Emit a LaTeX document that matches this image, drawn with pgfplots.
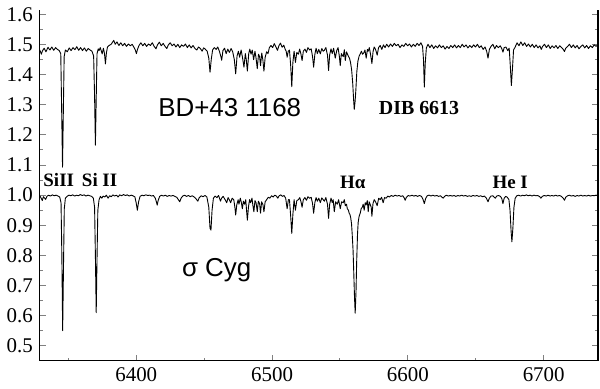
\documentclass[border=0pt]{standalone}
\usepackage{fontspec}
\setmainfont{Liberation Serif}
\newfontfamily\serf{Liberation Serif}
\newfontfamily\sansf{Liberation Sans}
\usepackage{pgfplots}
\pgfplotsset{compat=1.18}

\begin{document}
\begin{tikzpicture}
\begin{axis}[
  scale only axis, width=280pt, height=176pt,
  xmin=6329, xmax=6740, ymin=0.45, ymax=1.615,
  axis x line*=bottom, axis y line*=box,
  axis line style={line width=0.6pt},
  xtick={6400,6500,6600,6700},
  minor xtick={6350,6450,6550,6650},
  ytick={0.5,0.6,0.7,0.8,0.9,1.0,1.1,1.2,1.3,1.4,1.5,1.6},
  minor ytick={0.45,0.55,0.65,0.75,0.85,0.95,1.05,1.15,1.25,1.35,1.45,1.55},
  tick align=inside,
  major tick length=3pt, minor tick length=1.6pt,
  tick style={line width=0.5pt},
  /pgf/number format/assume math mode=true,
  xticklabel={\mbox{\serf\fontsize{10.5}{12}\selectfont\pgfmathprintnumber[1000 sep={}]{\tick}}},
  yticklabel={\mbox{\serf\fontsize{10.5}{12}\selectfont\pgfmathprintnumber[fixed,fixed zerofill,precision=1]{\tick}}},
]
% BD+43 1168 (offset spectrum)
\addplot[black, line width=0.45pt, line join=round, no marks] table {
6329.0 1.482
6330.1 1.468
6331.0 1.480
6332.2 1.488
6333.5 1.476
6335.0 1.491
6336.4 1.482
6337.8 1.492
6339.2 1.481
6340.6 1.490
6342.0 1.484
6343.3 1.480
6344.4 1.470
6345.0 1.300
6345.7 1.093
6346.3 1.280
6346.9 1.460
6347.8 1.482
6349.2 1.476
6350.6 1.489
6352.0 1.480
6353.4 1.490
6354.8 1.483
6356.2 1.493
6357.6 1.481
6359.0 1.490
6360.4 1.480
6361.8 1.489
6363.2 1.478
6364.6 1.487
6366.0 1.482
6367.4 1.478
6368.6 1.462
6369.3 1.330
6369.9 1.166
6370.5 1.320
6371.1 1.470
6372.0 1.486
6372.6 1.480
6373.5 1.490
6374.9 1.469
6375.8 1.488
6376.6 1.470
6377.3 1.436
6378.0 1.472
6378.8 1.492
6380.0 1.497
6381.5 1.501
6382.5 1.508
6383.4 1.514
6384.5 1.501
6385.8 1.509
6387.2 1.497
6388.6 1.506
6390.0 1.496
6391.4 1.504
6392.8 1.494
6394.2 1.502
6395.6 1.496
6397.0 1.501
6398.4 1.490
6399.3 1.482
6400.1 1.470
6400.9 1.484
6402.0 1.497
6403.4 1.506
6404.8 1.496
6406.2 1.504
6407.6 1.494
6409.0 1.502
6410.4 1.497
6411.8 1.506
6413.2 1.494
6414.5 1.486
6415.6 1.499
6417.0 1.508
6418.4 1.496
6419.8 1.504
6421.2 1.494
6422.5 1.487
6423.6 1.499
6425.0 1.506
6426.4 1.496
6427.8 1.502
6429.2 1.492
6430.6 1.501
6432.0 1.490
6433.4 1.499
6434.8 1.494
6436.2 1.502
6437.6 1.490
6439.0 1.499
6440.4 1.489
6441.8 1.497
6443.2 1.487
6444.6 1.482
6445.8 1.492
6447.2 1.487
6448.5 1.478
6449.6 1.489
6450.8 1.485
6452.2 1.478
6453.4 1.455
6454.3 1.408
6455.2 1.450
6456.2 1.482
6457.4 1.490
6458.8 1.484
6460.0 1.492
6461.2 1.478
6462.2 1.462
6462.9 1.448
6463.8 1.480
6465.0 1.488
6466.2 1.470
6467.4 1.485
6468.6 1.474
6469.8 1.487
6471.0 1.476
6472.2 1.450
6473.2 1.403
6474.2 1.462
6475.2 1.478
6476.1 1.458
6477.2 1.482
6478.3 1.455
6479.3 1.425
6480.3 1.470
6481.0 1.450
6481.8 1.412
6482.8 1.470
6483.6 1.485
6484.5 1.468
6485.4 1.482
6486.4 1.450
6487.4 1.478
6488.2 1.455
6489.1 1.420
6490.0 1.468
6490.8 1.460
6491.5 1.430
6492.4 1.472
6493.2 1.450
6494.0 1.412
6494.9 1.458
6496.0 1.476
6497.0 1.470
6498.0 1.490
6499.2 1.497
6500.4 1.490
6501.6 1.503
6502.8 1.492
6504.0 1.481
6505.0 1.496
6506.2 1.505
6507.4 1.491
6508.6 1.498
6509.6 1.485
6510.4 1.478
6511.1 1.458
6511.9 1.478
6512.8 1.482
6513.7 1.430
6514.5 1.360
6515.3 1.440
6516.2 1.478
6517.2 1.441
6518.2 1.474
6519.4 1.468
6520.3 1.485
6521.2 1.470
6522.1 1.447
6523.0 1.478
6524.2 1.485
6525.3 1.474
6526.4 1.490
6527.6 1.482
6528.8 1.486
6529.8 1.460
6530.6 1.425
6531.5 1.468
6532.4 1.488
6533.3 1.470
6534.4 1.484
6535.5 1.469
6536.6 1.487
6537.6 1.478
6538.5 1.481
6539.6 1.490
6540.8 1.465
6541.6 1.414
6542.4 1.466
6543.4 1.486
6544.3 1.470
6545.3 1.488
6546.5 1.455
6547.6 1.480
6548.6 1.490
6549.5 1.462
6550.2 1.430
6551.0 1.470
6552.4 1.460
6553.2 1.483
6553.9 1.447
6554.8 1.476
6556.1 1.462
6557.0 1.455
6557.8 1.440
6558.6 1.415
6559.4 1.370
6560.0 1.320
6560.5 1.285
6561.1 1.310
6561.7 1.350
6562.4 1.410
6563.2 1.445
6564.1 1.462
6565.0 1.470
6565.8 1.478
6566.6 1.468
6567.5 1.472
6568.4 1.482
6569.3 1.455
6570.2 1.484
6570.8 1.478
6571.6 1.490
6572.6 1.465
6573.5 1.437
6574.4 1.478
6575.2 1.492
6576.2 1.484
6577.4 1.465
6578.4 1.490
6579.6 1.497
6580.8 1.484
6582.0 1.499
6583.2 1.490
6584.4 1.501
6585.8 1.492
6587.2 1.502
6588.6 1.494
6590.0 1.504
6591.4 1.496
6592.8 1.501
6594.2 1.490
6595.6 1.499
6597.0 1.494
6598.4 1.504
6599.8 1.496
6601.2 1.502
6602.6 1.492
6604.0 1.501
6605.4 1.494
6606.8 1.504
6608.2 1.497
6609.6 1.506
6610.8 1.494
6611.5 1.450
6612.1 1.359
6612.8 1.440
6613.6 1.489
6614.8 1.501
6616.2 1.490
6617.6 1.499
6619.0 1.487
6620.4 1.496
6621.8 1.489
6623.2 1.499
6624.6 1.490
6626.0 1.496
6627.4 1.485
6628.8 1.494
6630.2 1.487
6631.6 1.497
6633.0 1.490
6634.4 1.499
6635.8 1.489
6637.2 1.497
6638.6 1.490
6640.0 1.501
6641.4 1.492
6642.8 1.499
6644.2 1.489
6645.6 1.497
6647.0 1.490
6648.4 1.499
6649.8 1.492
6651.2 1.501
6652.6 1.490
6654.0 1.496
6655.4 1.484
6656.8 1.492
6658.0 1.478
6659.0 1.455
6660.0 1.484
6661.2 1.494
6662.6 1.501
6664.0 1.486
6665.2 1.497
6666.6 1.490
6668.0 1.496
6669.2 1.486
6670.0 1.475
6670.9 1.490
6672.2 1.492
6673.5 1.480
6674.6 1.488
6675.4 1.430
6676.2 1.364
6677.0 1.420
6677.8 1.482
6679.0 1.492
6680.4 1.506
6681.8 1.496
6683.2 1.509
6684.6 1.497
6686.0 1.506
6687.4 1.494
6688.8 1.502
6690.2 1.492
6691.6 1.501
6693.0 1.490
6694.4 1.499
6695.8 1.489
6697.2 1.496
6698.2 1.484
6699.2 1.494
6700.6 1.501
6702.0 1.490
6703.4 1.499
6704.8 1.487
6706.2 1.496
6707.6 1.489
6709.0 1.497
6710.4 1.487
6711.8 1.496
6713.2 1.490
6714.4 1.484
6715.3 1.477
6716.2 1.488
6717.6 1.494
6719.0 1.501
6720.4 1.490
6721.8 1.499
6723.2 1.489
6724.6 1.497
6726.0 1.486
6727.4 1.494
6728.8 1.499
6730.2 1.489
6731.6 1.497
6733.0 1.487
6734.4 1.496
6735.8 1.490
6737.2 1.499
6738.6 1.494
6740.0 1.501
};
% sigma Cyg
\addplot[black, line width=0.45pt, line join=round, no marks] table {
6329.0 0.998
6330.0 0.990
6330.8 0.982
6331.6 0.995
6332.5 0.990
6333.3 0.986
6334.2 0.996
6335.4 1.000
6336.8 0.997
6338.2 1.001
6339.6 0.998
6341.0 1.000
6342.4 0.997
6343.6 0.994
6344.6 0.975
6345.2 0.800
6345.8 0.550
6346.4 0.760
6347.0 0.955
6347.8 0.990
6349.0 0.996
6350.4 1.000
6351.8 0.998
6353.2 1.001
6354.6 0.997
6356.0 1.000
6357.4 0.998
6358.8 1.002
6360.2 0.999
6361.6 1.001
6363.0 0.997
6364.4 1.000
6365.8 0.998
6367.2 0.996
6368.4 0.990
6369.3 0.960
6369.9 0.800
6370.5 0.610
6371.1 0.790
6371.7 0.950
6372.6 0.985
6373.6 0.996
6374.6 0.990
6375.6 0.997
6376.8 0.994
6378.0 1.000
6379.2 0.990
6380.4 0.998
6381.6 0.995
6382.8 1.001
6384.0 0.997
6385.4 1.000
6386.6 0.994
6387.8 1.001
6389.2 0.998
6390.6 1.002
6392.0 0.999
6393.4 1.001
6394.8 0.997
6396.2 1.000
6397.6 0.998
6399.0 0.994
6399.9 0.975
6400.8 0.950
6401.7 0.978
6402.8 0.996
6404.2 1.000
6405.6 0.998
6407.0 1.001
6408.4 0.999
6409.8 1.000
6411.2 0.997
6412.6 0.999
6414.0 0.990
6414.8 0.978
6415.4 0.967
6416.1 0.982
6417.2 0.996
6418.6 1.000
6420.0 0.997
6421.4 1.000
6422.8 0.996
6424.2 0.999
6425.6 0.997
6427.0 0.999
6428.4 0.996
6429.8 0.993
6431.0 0.985
6432.0 0.978
6433.0 0.990
6434.2 0.997
6435.6 1.000
6437.0 0.996
6438.4 0.999
6439.8 0.995
6441.2 0.998
6442.6 0.994
6444.0 0.988
6445.3 0.980
6446.4 0.992
6447.8 0.998
6449.2 0.995
6450.6 0.999
6452.0 0.994
6453.4 0.960
6454.3 0.890
6455.0 0.884
6455.8 0.950
6456.8 0.990
6458.0 0.997
6459.4 0.992
6460.6 0.999
6462.0 0.980
6462.8 0.990
6464.0 0.996
6465.4 0.985
6466.6 0.975
6467.6 0.992
6468.6 0.984
6469.5 0.975
6470.6 0.990
6471.8 0.985
6472.6 0.960
6473.2 0.934
6474.0 0.968
6475.0 0.985
6475.6 0.970
6476.6 0.990
6477.4 0.975
6478.1 0.955
6478.9 0.980
6479.8 0.970
6480.6 0.985
6481.2 0.950
6481.8 0.917
6482.6 0.960
6483.4 0.985
6484.2 0.975
6485.2 0.990
6485.9 0.965
6486.6 0.945
6487.4 0.982
6488.2 0.975
6489.1 0.945
6489.9 0.980
6490.8 0.972
6491.5 0.940
6492.3 0.978
6493.2 0.970
6494.0 0.945
6494.9 0.978
6496.0 0.985
6497.2 0.993
6498.4 0.990
6499.6 0.998
6500.8 0.994
6502.0 1.000
6503.2 0.997
6504.2 0.990
6505.2 0.998
6506.4 1.001
6507.6 0.996
6508.8 0.999
6510.0 0.990
6511.1 0.955
6512.0 0.985
6512.8 0.985
6513.7 0.930
6514.5 0.873
6515.3 0.935
6516.2 0.985
6517.2 0.950
6518.2 0.982
6519.4 0.985
6520.4 0.992
6521.3 0.978
6522.1 0.960
6523.0 0.985
6524.2 0.992
6525.3 0.983
6526.4 0.995
6527.6 0.990
6528.8 0.993
6529.8 0.972
6530.6 0.940
6531.5 0.975
6532.4 0.992
6533.3 0.980
6534.4 0.990
6535.5 0.975
6536.6 0.991
6537.6 0.985
6538.5 0.980
6539.6 0.992
6540.8 0.970
6541.6 0.923
6542.4 0.970
6543.4 0.990
6544.3 0.975
6545.0 0.985
6545.8 0.945
6546.8 0.978
6548.0 0.970
6549.0 0.985
6550.2 0.955
6551.2 0.978
6552.4 0.975
6553.2 0.985
6553.9 0.965
6554.8 0.970
6555.4 0.955
6556.2 0.950
6556.8 0.940
6557.4 0.935
6557.9 0.925
6558.5 0.905
6559.0 0.870
6559.6 0.820
6560.1 0.750
6560.7 0.660
6561.2 0.608
6561.8 0.680
6562.3 0.780
6562.9 0.870
6563.4 0.910
6564.1 0.930
6564.9 0.940
6565.6 0.955
6566.4 0.960
6567.1 0.970
6567.8 0.950
6568.6 0.975
6569.3 0.968
6570.1 0.982
6570.8 0.945
6571.5 0.978
6572.2 0.970
6573.0 0.960
6573.5 0.930
6574.3 0.972
6575.2 0.985
6576.2 0.978
6577.4 0.965
6578.5 0.990
6579.6 0.985
6580.6 0.993
6581.8 0.975
6582.8 0.992
6584.0 0.990
6585.2 0.997
6586.4 0.994
6587.8 0.999
6589.2 0.996
6590.6 1.000
6592.0 0.997
6593.4 0.999
6594.8 0.996
6596.2 0.998
6597.4 0.990
6598.0 0.983
6598.8 0.992
6600.2 0.999
6601.6 0.997
6603.0 1.000
6604.4 0.997
6605.8 0.999
6607.2 0.996
6608.6 0.999
6610.0 0.996
6611.2 0.985
6612.1 0.972
6613.0 0.988
6614.2 0.998
6615.6 1.000
6617.0 0.997
6618.4 1.000
6619.8 0.997
6621.2 0.999
6622.6 0.996
6624.0 0.998
6625.2 0.993
6626.0 0.990
6627.0 0.996
6628.4 1.000
6629.8 0.997
6631.2 0.999
6632.6 0.997
6634.0 0.999
6635.4 0.996
6636.8 0.999
6638.2 0.997
6639.6 1.000
6641.0 0.997
6642.4 0.999
6643.8 0.996
6645.2 0.998
6646.6 0.996
6648.0 0.999
6649.4 0.997
6650.8 0.999
6652.2 0.996
6653.6 0.998
6655.0 0.995
6656.4 0.997
6657.8 0.990
6659.0 0.978
6660.0 0.990
6661.2 0.997
6662.6 0.998
6663.6 0.993
6664.4 0.990
6665.4 0.997
6666.8 0.999
6668.2 0.996
6669.2 0.988
6670.0 0.972
6670.9 0.990
6672.0 0.996
6673.2 0.993
6674.4 0.985
6675.2 0.950
6676.0 0.880
6676.6 0.845
6677.3 0.890
6678.1 0.960
6679.0 0.990
6680.2 0.998
6681.6 1.000
6683.0 0.997
6684.4 1.000
6685.8 0.998
6687.2 1.001
6688.6 0.998
6690.0 1.000
6691.4 0.997
6692.8 1.000
6694.2 0.998
6695.6 0.999
6697.0 0.995
6698.0 0.990
6699.0 0.996
6700.4 0.999
6701.8 0.997
6703.2 1.000
6704.6 0.997
6706.0 0.999
6707.4 0.997
6708.8 1.000
6710.2 0.997
6711.6 0.999
6713.0 0.996
6714.4 0.990
6715.3 0.983
6716.2 0.993
6717.6 0.998
6719.0 1.000
6720.4 0.997
6721.8 0.999
6723.2 0.996
6724.6 0.999
6726.0 0.997
6727.4 1.000
6728.8 0.997
6730.2 0.999
6731.6 0.997
6733.0 1.000
6734.4 0.997
6735.8 0.999
6737.2 0.998
6738.6 1.000
6740.0 0.998
};
\node[font=\sansf\fontsize{13}{15}\selectfont] at (axis cs:6468.8,1.291) {BD+43 1168};
\node[font=\bfseries\fontsize{10}{12}\selectfont] at (axis cs:6608.2,1.288) {DIB 6613};
\node[font=\bfseries\fontsize{9.5}{11}\selectfont] at (axis cs:6342.9,1.05) {SiII};
\node[font=\bfseries\fontsize{9.5}{11}\selectfont] at (axis cs:6373.0,1.05) {Si II};
\node[font=\bfseries\fontsize{9.5}{11}\selectfont] at (axis cs:6559.4,1.043) {Hα};
\node[font=\bfseries\fontsize{9.5}{11}\selectfont] at (axis cs:6675.3,1.043) {He I};
\node[font=\sansf\fontsize{13}{15}\selectfont] at (axis cs:6459.2,0.752) {σ Cyg};
\coordinate (tr) at (rel axis cs:1,1);
\end{axis}
\path (tr) ++(1pt,5pt);
\end{tikzpicture}
\end{document}
